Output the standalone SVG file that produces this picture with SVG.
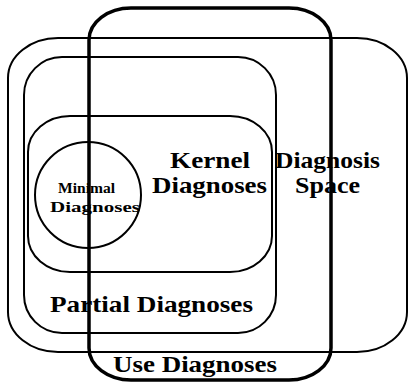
<svg xmlns="http://www.w3.org/2000/svg" width="409" height="382" viewBox="0 0 409 382">
<style>
.set{fill:none;stroke:#000;stroke-width:2}
.use{fill:none;stroke:#000;stroke-width:3.5}
.lbl{font-family:"Liberation Serif","DejaVu Serif",serif;font-size:24px;font-weight:bold;fill:#000}
.sm{font-family:"Liberation Serif","DejaVu Serif",serif;font-size:15px;font-weight:bold;fill:#000}
</style>
<rect width="409" height="382" fill="#fff"/>
<g id="space"><rect class="set" x="8" y="38" width="399" height="314" rx="50" ry="40"/>
<text class="lbl" x="275" y="168" textLength="105" lengthAdjust="spacingAndGlyphs">Diagnosis</text>
<text class="lbl" x="295" y="193" textLength="65" lengthAdjust="spacingAndGlyphs">Space</text></g>
<g id="partial"><rect class="set" x="24" y="57" width="252" height="276" rx="38" ry="38"/>
<text class="lbl" x="50" y="312" textLength="203" lengthAdjust="spacingAndGlyphs">Partial Diagnoses</text></g>
<g id="kernel"><rect class="set" x="28" y="116" width="244" height="156" rx="42" ry="36"/>
<text class="lbl" x="170" y="168" textLength="80" lengthAdjust="spacingAndGlyphs">Kernel</text>
<text class="lbl" x="152" y="193" textLength="115" lengthAdjust="spacingAndGlyphs">Diagnoses</text></g>
<g id="minimal"><circle class="set" cx="88" cy="195" r="53"/>
<text class="sm" x="58" y="193" textLength="57" lengthAdjust="spacingAndGlyphs">Minimal</text>
<text class="sm" x="50" y="212" textLength="90" lengthAdjust="spacingAndGlyphs">Diagnoses</text></g>
<g id="use"><rect class="use" x="89" y="8" width="242" height="372" rx="42" ry="32"/>
<text class="lbl" x="113" y="372" textLength="164" lengthAdjust="spacingAndGlyphs">Use Diagnoses</text></g>
<g id="connectors"></g>
</svg>
